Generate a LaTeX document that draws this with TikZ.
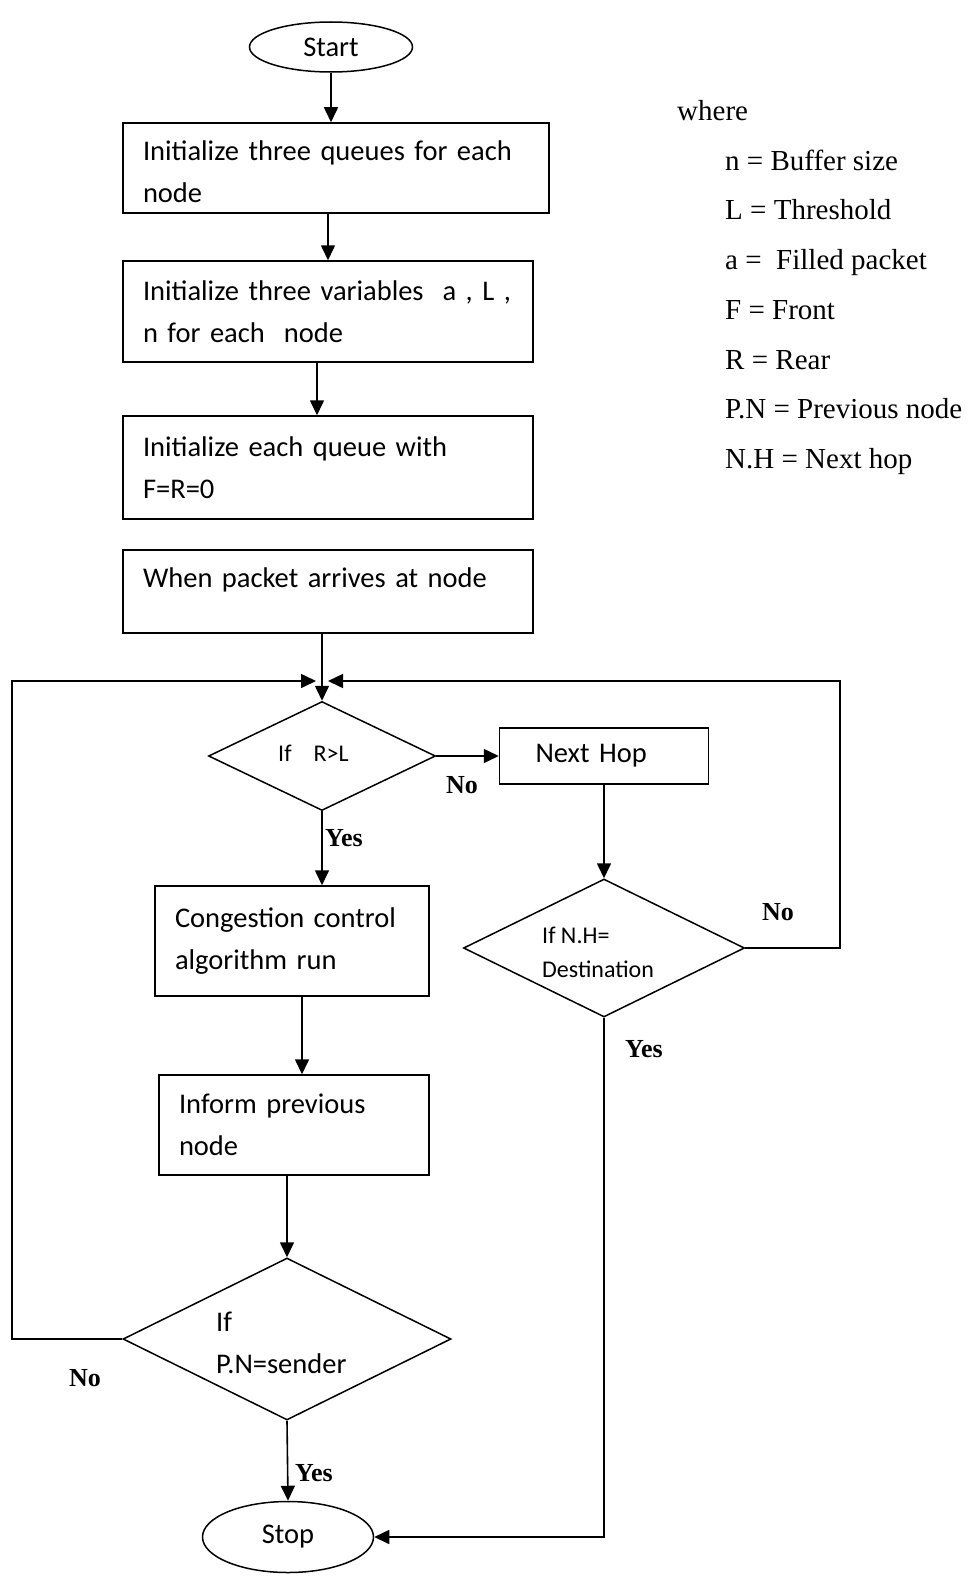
\documentclass[tikz,border=0pt]{standalone}
\usepackage{fontspec}
\setmainfont{Liberation Serif}
\newfontfamily\calibri{Carlito}
\usetikzlibrary{positioning,arrows.meta,shapes.geometric}

\begin{document}
\begin{tikzpicture}[
  x=1pt, y=-1pt,
  terminal/.style={ellipse, draw, line width=1.5pt, inner sep=0pt, font=\calibri\fontsize{28.5}{42}\selectfont},
  process/.style={rectangle, draw, line width=1.5pt, inner xsep=20pt, inner ysep=0pt, align=left, font=\calibri\fontsize{28.5}{42}\selectfont},
  decision/.style={diamond, draw, line width=1.5pt, inner sep=0pt},
  dtext/.style={anchor=west, align=left, inner sep=0pt},
  arr/.style={-{Triangle[length=15pt,width=14pt]}, line width=1.6pt},
  answer/.style={inner sep=0pt, font=\bfseries\fontsize{26}{30}\selectfont},
  keyitem/.style={anchor=base west, inner sep=0pt, font=\fontsize{29}{36}\selectfont}
]
\useasboundingbox (0,0) rectangle (973,1576);

% Start und Initialisierung
\node[terminal, minimum width=163pt, minimum height=50pt] (start) at (331,47) {Start};
\node[process, minimum width=426pt, minimum height=90pt, text width=386pt, text height=27pt] (init_q) at (336,168) {Initialize three queues for each\\node};
\node[process, minimum width=410pt, minimum height=101pt, text width=370pt] (init_v) at (328,311.5) {Initialize three variables \ a , L ,\\n for each \ node};
\node[process, minimum width=410pt, minimum height=103pt, text width=370pt] (init_fr) at (328,467.5) {Initialize each queue with\\F=R=0};
\node[process, minimum width=410pt, minimum height=83pt, text width=370pt, text depth=28pt] (arrive) at (328,591.5) {When packet arrives at node};

% Entscheidung R>L
\node[decision, minimum width=227pt, minimum height=109pt] (rl) at (322,756) {};
\node[dtext, font=\calibri\fontsize{24}{34}\selectfont] (rl_txt) at (278,753) {If\hspace{22pt}R>L};
\node[process, minimum width=209pt, minimum height=56pt, inner xsep=36pt, text width=137pt] (nexthop) at (604,756) {Next Hop};

% Stau-Zweig
\node[process, minimum width=274pt, minimum height=110pt, text width=234pt] (congest) at (292,941) {Congestion control\\algorithm run};
\node[process, minimum width=270pt, minimum height=100pt, text width=230pt] (inform) at (294,1125) {Inform previous\\node};
\node[decision, minimum width=328pt, minimum height=162pt] (sender) at (287,1339) {};
\node[dtext, font=\calibri\fontsize{28.5}{42}\selectfont] (sender_txt) at (216,1343) {If\\P.N=sender};

% Weiterleitungs-Zweig
\node[decision, minimum width=281pt, minimum height=138pt] (dest) at (604,948) {};
\node[dtext, font=\calibri\fontsize{24}{34}\selectfont] (dest_txt) at (542,952) {If N.H=\\Destination};

% Ende
\node[terminal, minimum width=171pt, minimum height=71pt] (stop) at (288,1537) {Stop};

% Hilfspunkte fuer die Rueckfuehrungen
\coordinate (merge_l) at (316,681);
\coordinate (merge_r) at (328,681);
\coordinate (loop_l) at (12,681);
\coordinate (loop_r) at (840,681);

% Verbindungen
\draw[arr] (start.south) -- (start.south |- init_q.north);
\draw[arr] (init_v.north |- init_q.south) -- (init_v.north);
\draw[arr] ([xshift=-11pt]init_v.south) -- ([xshift=-11pt]init_fr.north);
\draw[arr] (arrive.south -| rl.north) -- (rl.north);
\draw[arr] (rl.east) -- (rl.east -| nexthop.west);
\draw[arr] (rl.south) -- (rl.south |- congest.north);
\draw[arr] ([xshift=10pt]congest.south) -- ([xshift=10pt]congest.south |- inform.north);
\draw[arr] (inform.south -| sender.north) -- (sender.north);
\draw[arr] (sender.south) -- (stop.north);
\draw[arr] (nexthop.south) -- (dest.north);
\draw[arr] (dest.south) |- (stop.east);

% Rueckfuehrungen
\draw[arr] (dest.east) -| (loop_r) -- (merge_r);
\draw[arr] (sender.west) -| (loop_l) -- (merge_l);

% Beschriftungen
\node[answer] (no_rl) at (462,785) {No};
\node[answer] (yes_rl) at (344,838) {Yes};
\node[answer] (no_dest) at (778,912) {No};
\node[answer] (yes_dest) at (644,1049) {Yes};
\node[answer] (no_sender) at (85,1378) {No};
\node[answer] (yes_sender) at (314,1473) {Yes};

% Legende
\node[keyitem] (where) at (677,120.5) {where};
\foreach \txt [count=\i] in {n = Buffer size, L = Threshold, a = \ Filled packet, F = Front, R = Rear, P.N = Previous node, N.H = Next hop}
  \node[keyitem] (key\i) at (725,{120.5+49.7*\i}) {\txt};

\end{tikzpicture}
\end{document}
